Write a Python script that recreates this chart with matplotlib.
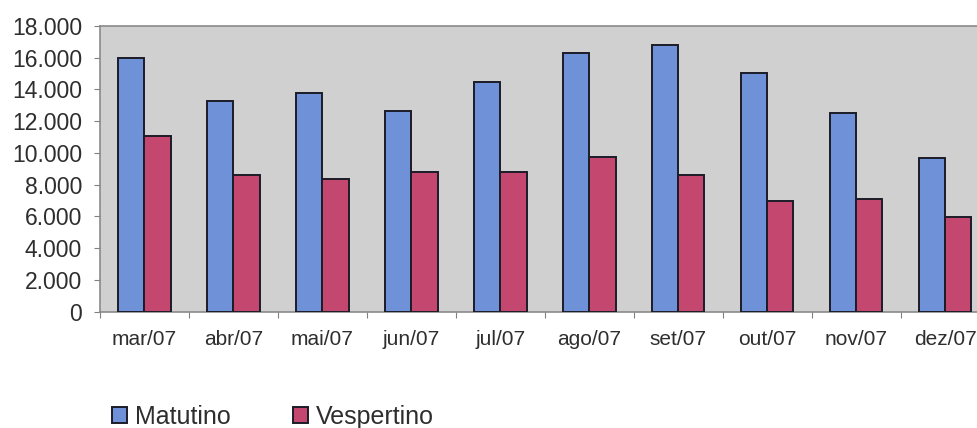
import matplotlib
matplotlib.use("Agg")
from matplotlib import pyplot as plt
from matplotlib.ticker import FuncFormatter, FixedLocator
import numpy as np

# dados
meses = ['mar/07', 'abr/07', 'mai/07', 'jun/07', 'jul/07',
         'ago/07', 'set/07', 'out/07', 'nov/07', 'dez/07']
matutino = [16000, 13250, 13750, 12650, 14450, 16300, 16800, 15050, 12500, 9700]
vespertino = [11050, 8600, 8350, 8800, 8800, 9750, 8600, 6950, 7100, 5950]

plt.rcParams['font.family'] = ['Liberation Sans', 'DejaVu Sans']
cor_texto = '#2e2e2e'

fig = plt.figure(figsize=(9.78, 4.28), dpi=100)
fig.patch.set_facecolor('white')
ax = fig.add_axes([100/978, (428-311.7)/428, 1-100/978, (311.7-26)/428])
ax.set_facecolor('#d0d0d0')

x = np.arange(len(meses))
w = 0.295
ax.bar(x - w/2, matutino, w, color='#6f91d8', edgecolor='#1c1c28',
       linewidth=1.4, label='Matutino', zorder=3)
ax.bar(x + w/2, vespertino, w, color='#c4476f', edgecolor='#1c1c28',
       linewidth=1.4, label='Vespertino', zorder=3)

ax.set_ylim(0, 18000)
ax.set_yticks(np.arange(0, 18001, 2000))
ax.yaxis.set_major_formatter(FuncFormatter(lambda v, p: f'{int(v):,}'.replace(',', '.')))
ax.set_xlim(-0.5, 9.37)

# ticks nas divisões das categorias, rótulos no centro
ax.xaxis.set_major_locator(FixedLocator(np.arange(-0.5, 10, 1)))
ax.xaxis.set_major_formatter(FuncFormatter(lambda v, p: ''))
ax.xaxis.set_minor_locator(FixedLocator(x))
ax.set_xticklabels(meses, minor=True)
ax.tick_params(axis='x', which='minor', length=0, pad=13, labelsize=15, labelcolor=cor_texto)
ax.tick_params(axis='x', which='major', length=4, color='#808080', direction='out')
ax.tick_params(axis='y', length=4, color='#808080', pad=9, labelsize=16.5, labelcolor=cor_texto)

for s in ['left', 'bottom', 'top']:
    ax.spines[s].set_color('#8a8a8a')
    ax.spines[s].set_linewidth(1.2)
ax.spines['right'].set_visible(False)

leg = fig.legend(loc='center left', bbox_to_anchor=(112/978, 1 - 417/428), ncol=2,
                 frameon=False, fontsize=18, handlelength=0.6, handleheight=0.6,
                 handletextpad=0.32, columnspacing=2.5, borderaxespad=0, borderpad=0)
for t in leg.get_texts():
    t.set_color(cor_texto)

plt.savefig('out.png', dpi=100)
